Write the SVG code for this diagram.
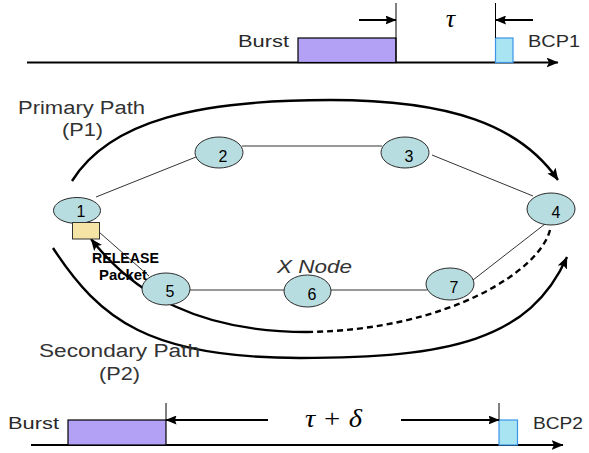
<svg xmlns="http://www.w3.org/2000/svg" width="589" height="453" viewBox="0 0 589 453">
  <style>
    .label { font-family: "Liberation Sans", Arial, sans-serif; font-size: 17px; fill: #2a2a2a; }
    .path-label { font-family: "Liberation Sans", Arial, sans-serif; font-size: 18px; fill: #333333; }
    .num { font-family: "Liberation Sans", Arial, sans-serif; font-size: 16px; fill: #000000; text-anchor: middle; }
    .greek { font-family: "Liberation Serif", "Times New Roman", serif; font-style: italic; font-size: 26px; fill: #000000; }
    .node { fill: #b8dde1; stroke: #2b2b2b; stroke-width: 1; }
    .link { stroke: #333333; stroke-width: 1; fill: none; }
    .axis { stroke: #000000; stroke-width: 2; fill: none; }
    .dim { stroke: #000000; stroke-width: 1; fill: none; }
    .route { stroke: #000000; stroke-width: 2.4; fill: none; }
    .burst { fill: #b3a1f5; stroke: #000000; stroke-width: 1.2; }
    .bcp { fill: #a8e4f2; stroke: #3a94e8; stroke-width: 1.2; }
  </style>
  <defs>
    <marker id="head" markerUnits="userSpaceOnUse" markerWidth="12" markerHeight="10" refX="11.5" refY="5" orient="auto">
      <path d="M0,0 L12,5 L0,10 L2.5,5 z" fill="#000000"/>
    </marker>
    <marker id="headSmall" markerUnits="userSpaceOnUse" markerWidth="11" markerHeight="9" refX="10.5" refY="4.5" orient="auto">
      <path d="M0,0 L11,4.5 L0,9 L1.5,4.5 z" fill="#000000"/>
    </marker>
  </defs>

  <!-- upper timeline: burst followed by BCP1 -->
  <g id="timeline-p1">
    <line class="axis" x1="27" y1="62.5" x2="558" y2="62.5" marker-end="url(#head)"/>
    <rect class="burst" x="298" y="38" width="98" height="24.5"/>
    <rect class="bcp" x="495.5" y="38" width="17.5" height="24.5"/>
    <line class="dim" x1="396" y1="3" x2="396" y2="62"/>
    <line class="dim" x1="495.5" y1="3" x2="495.5" y2="38"/>
    <line class="axis" x1="359" y1="20" x2="396" y2="20" marker-end="url(#headSmall)"/>
    <line class="axis" x1="533" y1="20" x2="495.5" y2="20" marker-end="url(#headSmall)"/>
    <text class="greek" x="450.5" y="27" text-anchor="middle">τ</text>
    <text class="label" x="238" y="47" textLength="51" lengthAdjust="spacingAndGlyphs">Burst</text>
    <text class="label" x="528" y="47" textLength="52" lengthAdjust="spacingAndGlyphs">BCP1</text>
  </g>

  <!-- lower timeline: burst followed by BCP2 -->
  <g id="timeline-p2">
    <line class="axis" x1="31" y1="445" x2="563" y2="445" marker-end="url(#head)"/>
    <rect class="burst" x="68" y="420" width="98" height="25"/>
    <rect class="bcp" x="499" y="420" width="18.5" height="25"/>
    <line class="dim" x1="166" y1="403" x2="166" y2="420"/>
    <line class="dim" x1="499" y1="403" x2="499" y2="420"/>
    <line class="axis" x1="268" y1="420" x2="166" y2="420" marker-end="url(#headSmall)"/>
    <line class="axis" x1="401" y1="420" x2="499" y2="420" marker-end="url(#headSmall)"/>
    <text class="greek" x="305" y="427" textLength="57" lengthAdjust="spacingAndGlyphs">τ + δ</text>
    <text class="label" x="8" y="429" textLength="51" lengthAdjust="spacingAndGlyphs">Burst</text>
    <text class="label" x="533" y="429" textLength="50" lengthAdjust="spacingAndGlyphs">BCP2</text>
  </g>

  <!-- links and routes -->
  <g id="connectors">
    <line class="link" x1="96" y1="197" x2="196" y2="157"/>
    <line class="link" x1="242" y1="146" x2="382" y2="146"/>
    <line class="link" x1="432" y1="155" x2="533" y2="196"/>
    <line class="link" x1="545" y1="224" x2="473" y2="280"/>
    <line class="link" x1="331" y1="290" x2="427" y2="290"/>
    <line class="link" x1="189" y1="290" x2="284" y2="290"/>
    <line class="link" x1="99" y1="232" x2="149" y2="276"/>
    <!-- primary path P1 -->
    <path class="route" d="M72,181 C110,120 200,100 330,100 C450,100 520,125 558,180" marker-end="url(#head)"/>
    <!-- secondary path P2 -->
    <path class="route" d="M53,248 C100,320 150,358 300,358 C450,358 530,340 567,257" marker-end="url(#head)"/>
    <!-- release packet route back to node 1 -->
    <path class="route" d="M550,230 C540,270 450,330 307,332" stroke-dasharray="6,4" stroke-width="2"/>
    <path class="route" d="M307,332 C200,332 135,295 91,239" marker-end="url(#head)"/>
  </g>

  <g id="node-1">
    <ellipse class="node" cx="77" cy="210.5" rx="23.5" ry="13"/>
    <text class="num" x="81" y="217">1</text>
  </g>
  <g id="release-packet">
    <rect x="72.5" y="222.5" width="27" height="16.5" fill="#f6e3a6" stroke="#333333" stroke-width="1"/>
  </g>
  <g id="node-2">
    <ellipse class="node" cx="219" cy="152.5" rx="24" ry="15.5"/>
    <text class="num" x="223" y="161.5">2</text>
  </g>
  <g id="node-3">
    <ellipse class="node" cx="405" cy="152.5" rx="24" ry="15.5"/>
    <text class="num" x="409" y="161.5">3</text>
  </g>
  <g id="node-4">
    <ellipse class="node" cx="551" cy="209" rx="24" ry="16"/>
    <text class="num" x="556" y="218">4</text>
  </g>
  <g id="node-5">
    <ellipse class="node" cx="166" cy="289" rx="24" ry="16"/>
    <text class="num" x="170" y="297">5</text>
  </g>
  <g id="node-6">
    <ellipse class="node" cx="307.5" cy="291" rx="23.5" ry="16"/>
    <text class="num" x="312" y="300">6</text>
  </g>
  <g id="node-7">
    <ellipse class="node" cx="450" cy="284" rx="24" ry="16"/>
    <text class="num" x="454" y="293">7</text>
  </g>

  <!-- labels -->
  <g id="labels">
    <text class="path-label" x="18" y="114" textLength="127" lengthAdjust="spacingAndGlyphs">Primary Path</text>
    <text class="path-label" x="62" y="136" textLength="41" lengthAdjust="spacingAndGlyphs">(P1)</text>
    <text class="path-label" x="39" y="357" textLength="161" lengthAdjust="spacingAndGlyphs">Secondary Path</text>
    <text class="path-label" x="99" y="380" textLength="41" lengthAdjust="spacingAndGlyphs">(P2)</text>
    <text class="path-label" x="277" y="273" font-style="italic" textLength="75" lengthAdjust="spacingAndGlyphs">X Node</text>
    <text x="92" y="263" font-family="Liberation Sans, Arial, sans-serif" font-size="14" font-weight="bold" fill="#000000" textLength="67" lengthAdjust="spacingAndGlyphs">RELEASE</text>
    <text x="99" y="280" font-family="Liberation Sans, Arial, sans-serif" font-size="14" font-weight="bold" fill="#000000" textLength="48" lengthAdjust="spacingAndGlyphs">Packet</text>
  </g>
</svg>
